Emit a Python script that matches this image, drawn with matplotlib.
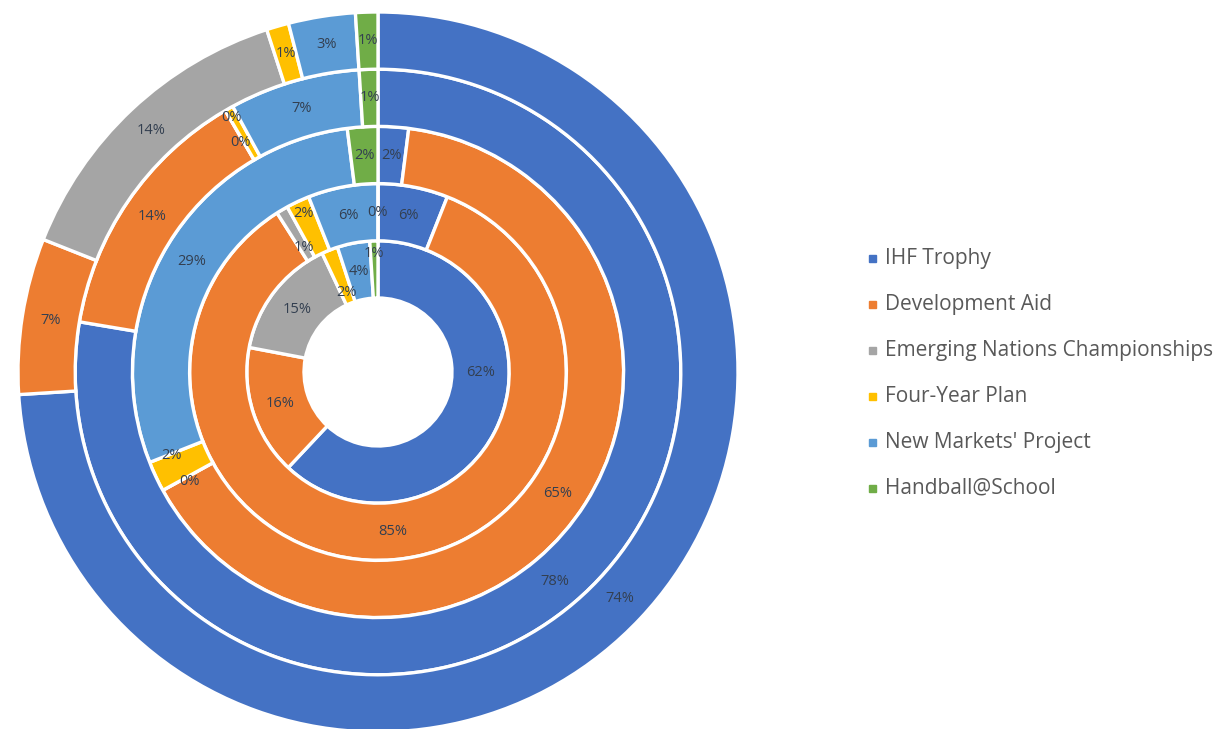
import numpy as np
import matplotlib
matplotlib.use("Agg")
import matplotlib.pyplot as plt
from matplotlib.patches import Rectangle

plt.rcParams['font.family'] = ['Open Sans', 'DejaVu Sans']

# series names (legend order = slice order, clockwise from 12 o'clock)
categories = ["IHF Trophy", "Development Aid", "Emerging Nations Championships",
              "Four-Year Plan", "New Markets' Project", "Handball@School"]
colors = ["#4472C4", "#ED7D31", "#A5A5A5", "#FFC000", "#5B9BD5", "#70AD47"]

# share (%) of each programme, innermost ring first
ring1 = [62, 16, 15, 2, 4, 1]
ring2 = [6, 85, 1, 2, 6, 0]
ring3 = [2, 65, 0, 2, 29, 2]
ring4 = [78, 14, 0, 0.45, 7, 1]
ring5 = [74, 7, 14, 1, 3, 1]
rings = [ring1, ring2, ring3, ring4, ring5]

W, H = 1225, 729
fig = plt.figure(figsize=(W / 100, H / 100), dpi=100)
ax = fig.add_axes([0, 0, 1, 1])

cx, cy = 378, H - 372      # pixel coordinates of the doughnut centre
hole = 74
outer = 360
width = (outer - hole) / len(rings)

# a few labels that were nudged by hand in the original chart
# (ring, slice) -> (angle as fraction of the turn, radius in px)
nudges = {(0, 0): (0.25, None), (0, 3): (None, 86), (0, 5): (None, 119),
          (1, 2): (None, 145), (1, 3): (None, 175),
          (2, 2): (0.666, 218), (2, 3): (0.689, 223),
          (3, 2): (0.917, 294), (3, 3): (0.914, 268)}

for i, vals in enumerate(rings):
    r_out = hole + width * (i + 1)
    ax.pie(vals, colors=colors, radius=r_out, center=(cx, cy), startangle=90,
           counterclock=False,
           wedgeprops=dict(width=width, edgecolor="white", linewidth=2.4))
    total = sum(vals)
    cum = np.cumsum([0] + list(vals)) / total
    for j, v in enumerate(vals):
        frac = (cum[j] + cum[j + 1]) / 2
        r = r_out - width / 2
        nf, nr = nudges.get((i, j), (None, None))
        if nf is not None:
            frac = nf
        if nr is not None:
            r = nr
        theta = np.deg2rad(90 - 360 * frac)
        ax.text(cx + r * np.cos(theta), cy + r * np.sin(theta), f"{round(v)}%",
                ha="center", va="center", fontsize=10.5, color="#333F50")

ax.set_xlim(0, W)
ax.set_ylim(0, H)
ax.set_aspect("equal")
ax.axis("off")

# legend
for k, (name, c) in enumerate(zip(categories, colors)):
    y = H - (258 + 46 * k)
    ax.add_patch(Rectangle((869, y - 3.5), 7, 7, color=c))
    ax.text(885, y, name, ha="left", va="center", fontsize=15, color="#595959")

fig.savefig("out.png", dpi=100)
